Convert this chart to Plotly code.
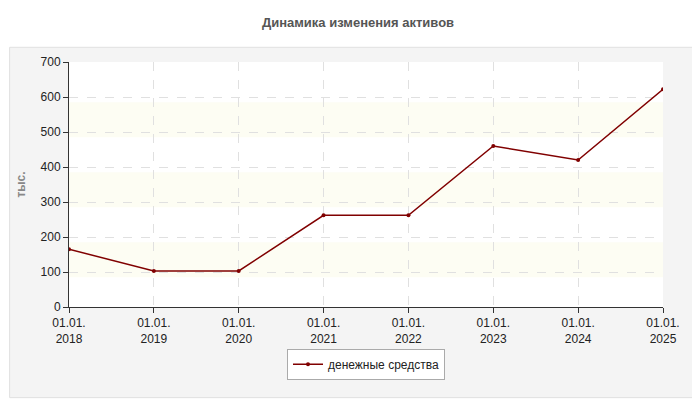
import plotly.graph_objects as go

dates = ["01.01.<br>2018","01.01.<br>2019","01.01.<br>2020","01.01.<br>2021","01.01.<br>2022","01.01.<br>2023","01.01.<br>2024","01.01.<br>2025"]
values = [165, 103, 103, 262, 262, 460, 420, 622]
series_name = "денежные средства"

fig = go.Figure()
fig.add_trace(go.Scatter(x=list(range(len(dates))), y=values, mode="lines+markers",
    name=series_name, line=dict(color="#800000", width=1.5),
    marker=dict(size=4, color="#800000")))

shapes = [dict(type="rect", xref="paper", yref="paper", x0=-0.1, x1=1.07, y0=-0.37, y1=1.06,
               fillcolor="#f4f4f4", line=dict(color="#e0e0e0", width=1), layer="below"),
          dict(type="rect", xref="x domain", yref="y domain", x0=0, x1=1, y0=0, y1=1,
               fillcolor="white", line=dict(width=0), layer="below")]
for lo in [100, 300, 500]:
    shapes.append(dict(type="rect", xref="x", yref="y", x0=0, x1=7, y0=lo-15, y1=lo+85,
                       fillcolor="#fdfdf3", line=dict(width=0), layer="below"))

fig.update_layout(
    width=700, height=400, margin=dict(l=58, r=45, t=54, b=101),
    paper_bgcolor="white", plot_bgcolor="white",
    font=dict(family="Liberation Sans, Arial", size=12, color="#222"),
    title=dict(text="<b>Динамика изменения активов</b>", x=0.5, y=0.975, xanchor="center", yanchor="top",
               font=dict(size=13, color="#555")),
    shapes=shapes,
    xaxis=dict(tickvals=list(range(len(dates))), ticktext=dates, range=[0, 7],
               showgrid=True, gridcolor="#e0e0e0", griddash="dash",
               showline=True, linecolor="#333", ticks="outside", ticklen=5, tickcolor="#333", zeroline=False),
    yaxis=dict(range=[0, 700], dtick=100, showgrid=True, gridcolor="#e0e0e0", griddash="dash",
               showline=True, linecolor="#333", ticks="outside", ticklen=5, tickcolor="#333", zeroline=False,
               title=dict(text="<b>тыс.</b>", font=dict(size=12, color="#888"), standoff=12)),
    showlegend=True,
    legend=dict(orientation="h", x=0.5, xanchor="center", y=-0.17, yanchor="top",
                bgcolor="white", bordercolor="#aaa", borderwidth=1, font=dict(size=12, color="#222")),
)
fig.write_html("out.html")
